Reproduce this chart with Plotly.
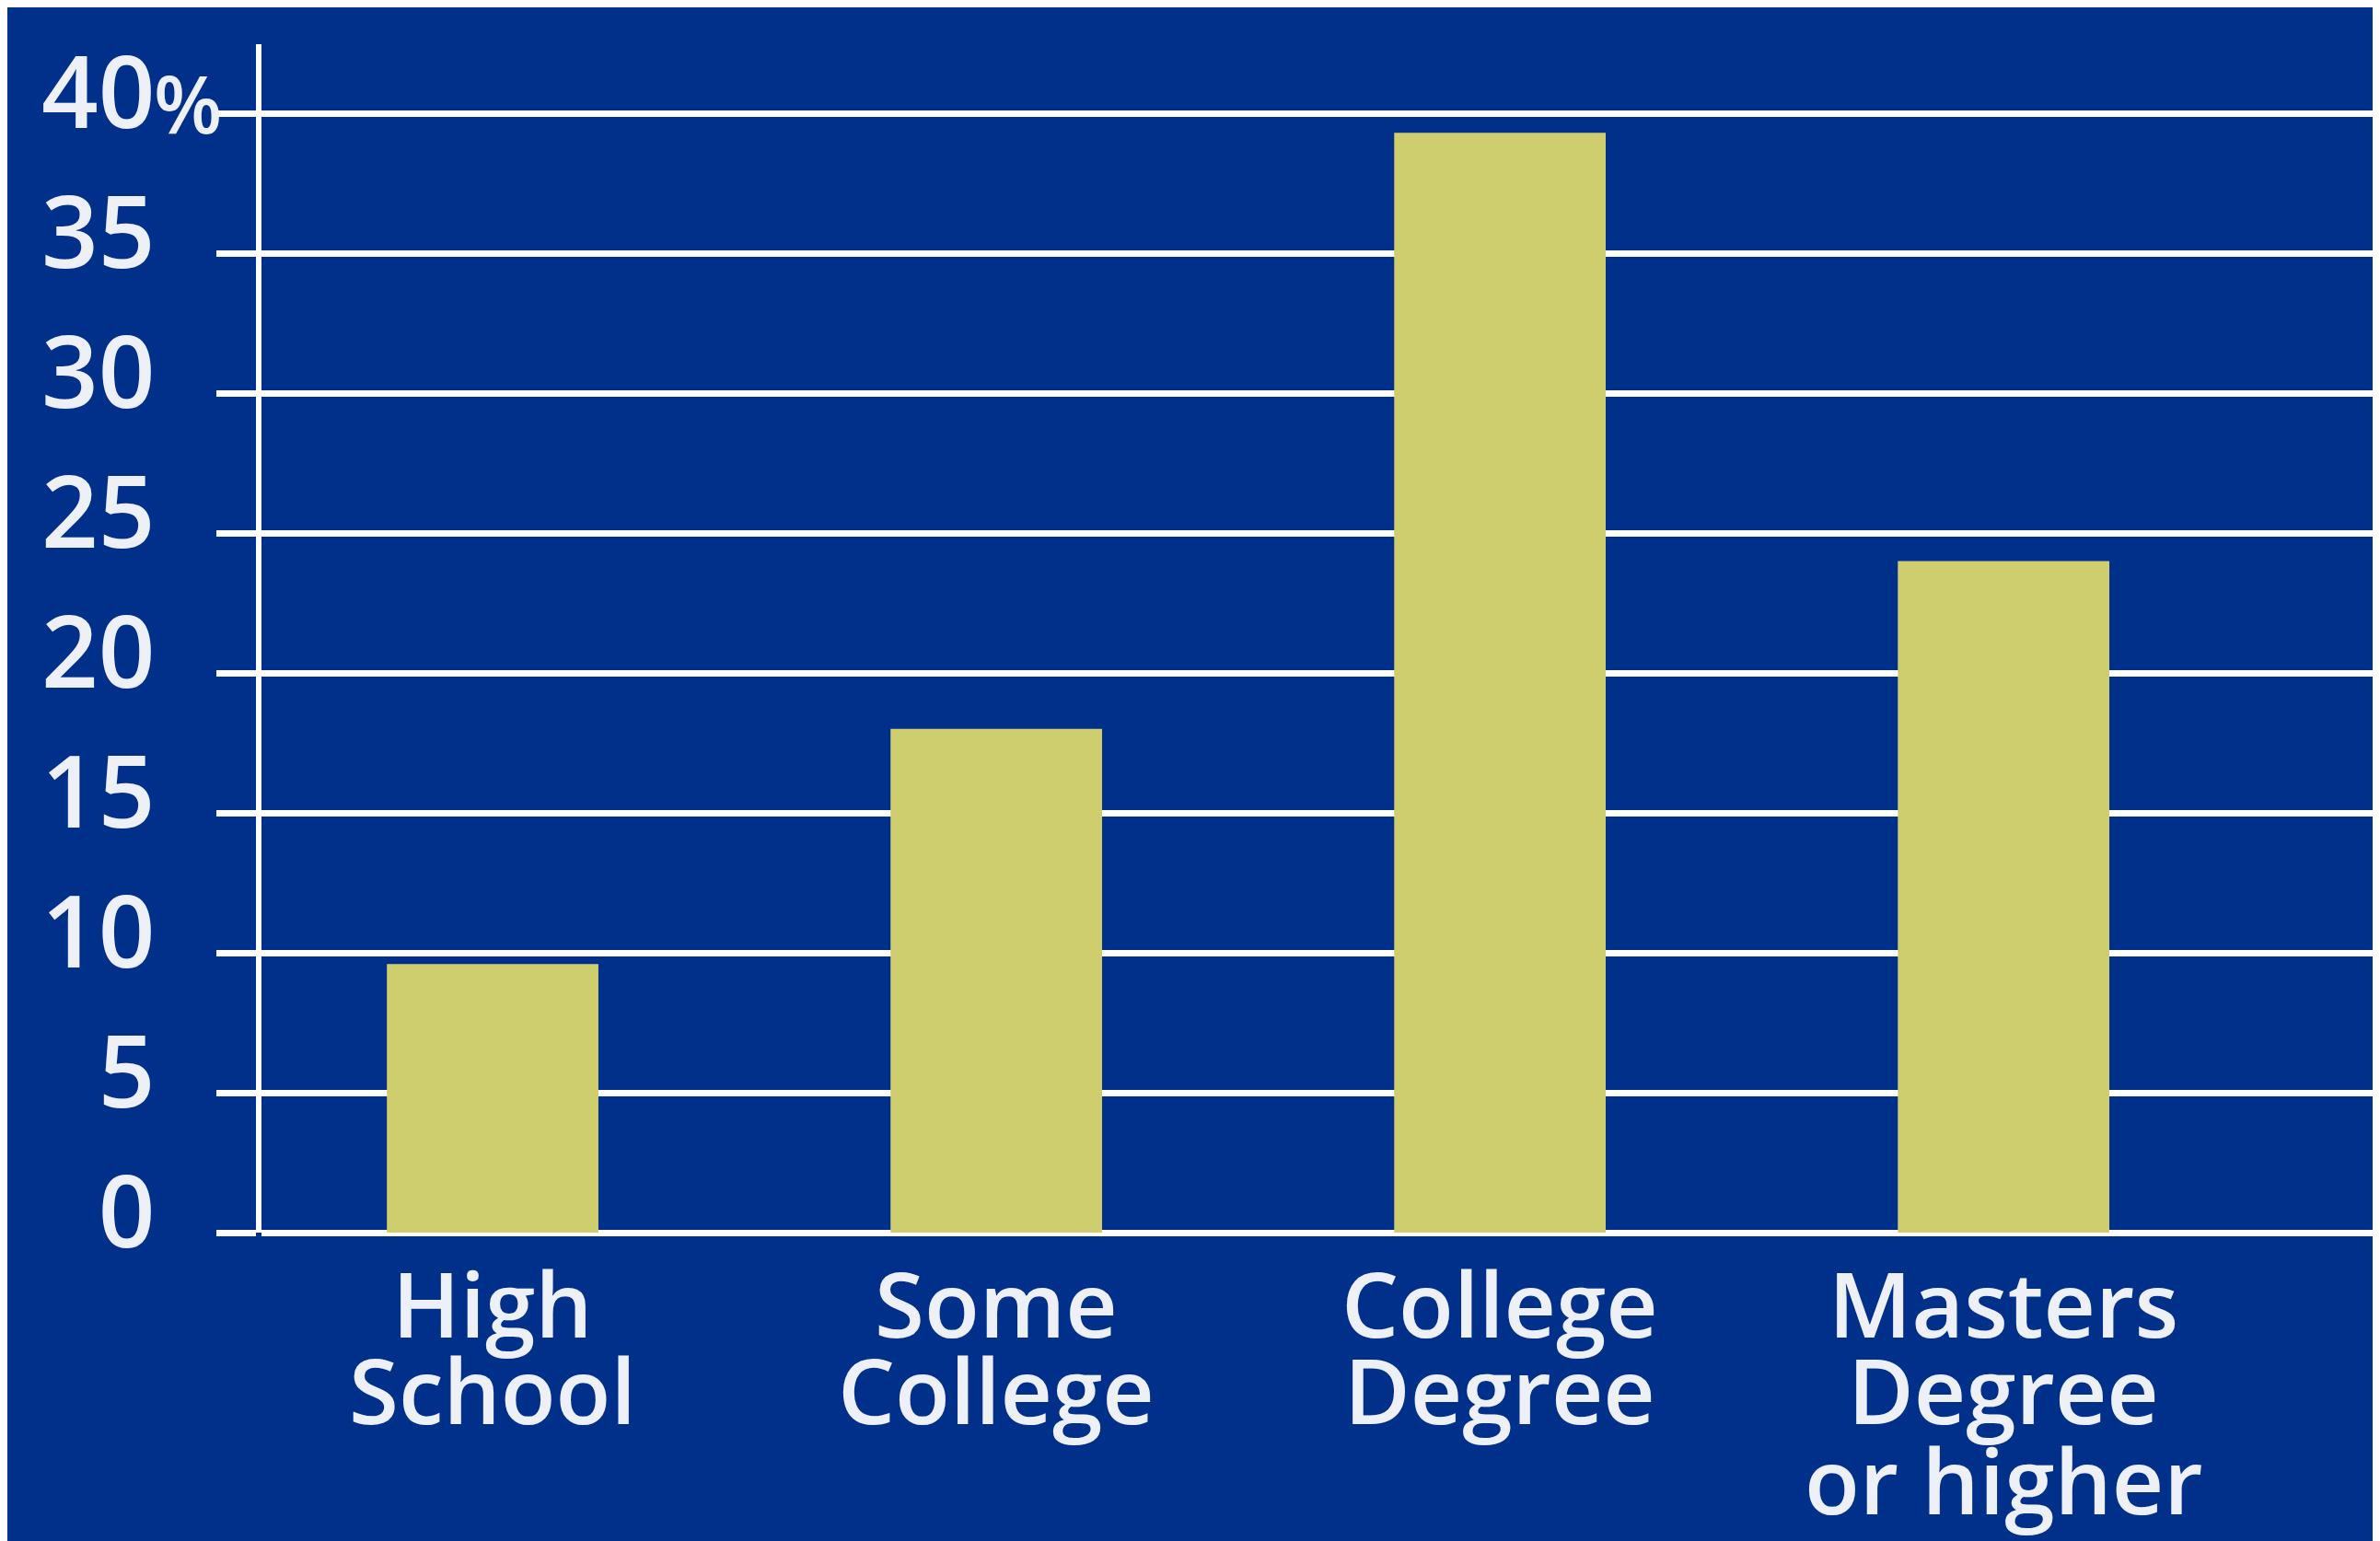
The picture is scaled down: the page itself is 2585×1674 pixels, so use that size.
import plotly.graph_objects as go

# ---- data ----
categories = ["High School", "Some College", "College Degree", "Masters Degree or higher"]
label_lines = [["High", "School"], ["Some", "College"], ["College", "Degree"], ["Masters", "Degree", "or higher"]]
values = [9.6, 18.0, 39.3, 24.0]
y_tickvals = [0, 5, 10, 15, 20, 25, 30, 35, 40]
y_ticktext = ["0", "5", "10", "15", "20", "25", "30", "35", "40"]

BG = "#00308A"
BAR = "#CFCE6E"
TXT = "#EEF0F8"
FONT = "Open Sans"

W, H = 2585, 1674
ML, MR, MT, MB = 276, 0, 40, 343

fig = go.Figure()
fig.add_trace(go.Bar(
    x=list(range(len(categories))), y=values, width=0.42,
    marker=dict(color=BAR, line=dict(width=0)),
    hovertext=categories, showlegend=False,
))

# x labels as stacked lines (tight line spacing as in reference)
line_shift = [-76, -170, -268]
annotations = []
for i, lines in enumerate(label_lines):
    for j, t in enumerate(lines):
        annotations.append(dict(
            x=i, y=0, xref="x", yref="y", text=t, showarrow=False,
            xanchor="center", yanchor="middle", yshift=line_shift[j],
            font=dict(family=FONT, size=98, color=TXT, weight=600),
        ))
# percent sign after the top tick label
annotations.append(dict(
    x=0, y=y_tickvals[-1], xref="paper", yref="y", text="%", showarrow=False,
    xanchor="left", yanchor="middle", xshift=-119, yshift=12,
    font=dict(family=FONT, size=86, color=TXT, weight=600),
))

fig.update_layout(
    width=W, height=H,
    margin=dict(l=ML, r=MR, t=MT, b=MB, pad=0),
    paper_bgcolor=BG, plot_bgcolor=BG,
    annotations=annotations,
    xaxis=dict(
        range=[-0.459, 3.762], showgrid=False, zeroline=False,
        showticklabels=False, ticks="", showline=False, fixedrange=True,
    ),
    yaxis=dict(
        range=[0, 42.47], tickvals=y_tickvals, ticktext=y_ticktext,
        showgrid=True, gridcolor="#FFFFFF", gridwidth=7,
        zeroline=True, zerolinecolor="#FFFFFF", zerolinewidth=7,
        showline=True, linecolor="#FFFFFF", linewidth=6,
        ticks="outside", ticklen=43, tickwidth=7, tickcolor="#FFFFFF",
        ticklabelstandoff=45, ticklabelshift=-22,
        tickfont=dict(family=FONT, size=108, color=TXT, weight=600),
    ),
)

fig.write_html("out.html")
